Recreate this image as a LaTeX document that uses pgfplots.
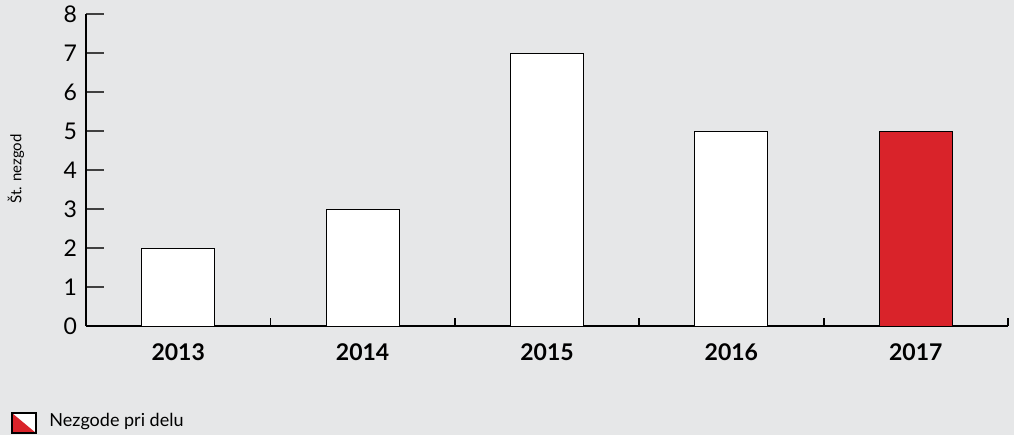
\documentclass[border=0pt]{standalone}
\usepackage{pgfplots}
\pgfplotsset{compat=1.18}
\usepackage{fontspec}
\setmainfont{Lato}
\definecolor{bg}{HTML}{E6E7E8}
\definecolor{red}{HTML}{D9232A}
\definecolor{tickgray}{HTML}{404040}
\begin{document}
\begin{tikzpicture}[x=1pt,y=1pt]
\useasboundingbox (0,0) rectangle (507,217.5);
\fill[bg] (0,0) rectangle (507,217.5);
\begin{axis}[
  at={(43pt,54.5pt)}, anchor=south west,
  scale only axis, width=461pt, height=156pt,
  xmin=-0.5, xmax=4.5, ymin=0, ymax=8,
  axis x line*=bottom, axis y line*=left,
  axis line style={line width=1pt, -},
  xtick={0,1,2,3,4},
  xticklabels={2013,2014,2015,2016,2017},
  xticklabel style={font=\fontsize{11.5}{13}\selectfont\bfseries, yshift=-5.5pt},
  minor x tick num=1,
  every major x tick/.style={draw=none},
  every minor x tick/.style={draw=black, line width=0.9pt},
  minor tick length=4pt,
  extra x ticks={4.5},
  extra x tick labels={},
  extra x tick style={every major x tick/.style={draw=black, line width=0.9pt}, major tick length=4pt},
  ytick={0,...,8},
  y tick style={draw=tickgray, line width=0.6pt},
  major tick length=9pt, tick align=inside,
  yticklabel style={font=\fontsize{11.5}{13}\selectfont, xshift=-1pt},
  /pgf/number format/assume math mode=true,
  clip=false,
]
\addplot[ybar, bar width=36.5pt, bar shift=0pt, draw=black, line width=0.5pt, fill=white]
  coordinates {(0,2) (1,3) (2,7) (3,5)};
\addplot[ybar, bar width=36.5pt, bar shift=0pt, draw=black, line width=0.5pt, fill=red]
  coordinates {(4,5)};
\end{axis}
\node[rotate=90, inner sep=0pt, font=\fontsize{7.5}{9}\selectfont] at (8,133) {Št. nezgod};
\fill[white] (6,1) rectangle (18,11);
\fill[red] (6,1) -- (18,1) -- (6,11) -- cycle;
\draw[black, line width=0.6pt] (6,1) rectangle (18,11);
\node[anchor=west, inner sep=0pt, font=\fontsize{9}{11}\selectfont] at (24.5,6.5) {Nezgode pri delu};
\end{tikzpicture}
\end{document}
